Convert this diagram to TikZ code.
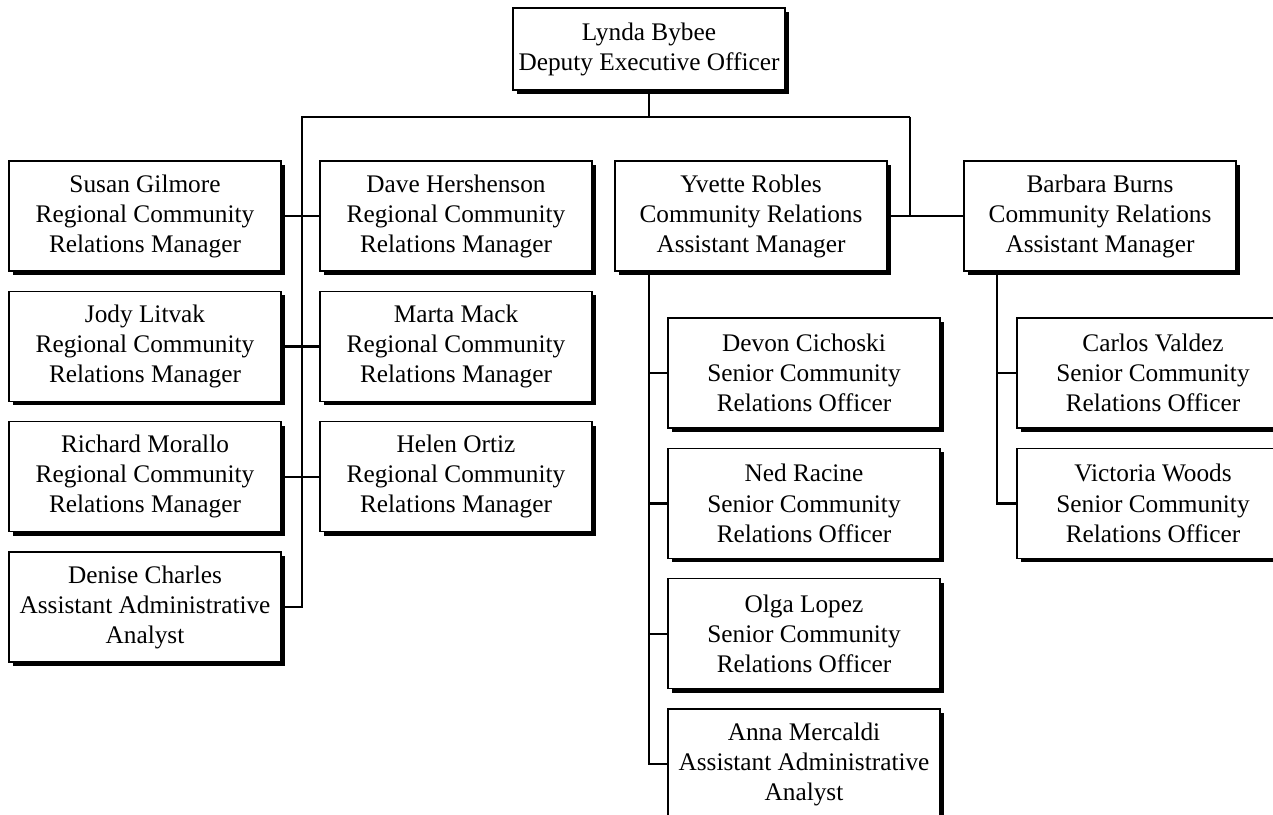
\documentclass[tikz,border=0pt]{standalone}
\usepackage{fontspec}
\setmainfont{Liberation Serif}
\usetikzlibrary{positioning,shadows}

\begin{document}
\begin{tikzpicture}
    [x=0.02cm, y=-0.02cm,
    node distance =0.38cm,
    line width=1.3pt,
    staff/.style={draw, line width=0.8pt, fill=white, align=center,
        minimum width=5.44cm, minimum height=2.2cm, inner sep=1pt,
        font=\fontsize{14.4}{17.1}\selectfont,
        drop shadow={shadow xshift=0.08cm, shadow yshift=-0.08cm, fill=black, opacity=1}}]
        \useasboundingbox (0,0) rectangle (1273,814);
        \clip (0,0) rectangle (1273,814);
        %% Deputy Executive Officer
        \node[staff, minimum height=1.64cm] (Bybee) at (649,49) {Lynda Bybee\\Deputy Executive Officer};
        \coordinate (busL) at (302,117);
        \coordinate (busR) at (910,117);
        %% Regional managers
        \node[staff] (Gilmore) at (145,216) {Susan Gilmore\\Regional Community\\Relations Manager};
        \node[staff, below = of Gilmore] (Litvak) {Jody Litvak\\Regional Community\\Relations Manager};
        \node[staff, below = of Litvak] (Morallo) {Richard Morallo\\Regional Community\\Relations Manager};
        \node[staff, below = of Morallo] (Charles) {Denise Charles\\Assistant Administrative\\Analyst};
        \node[staff] (Hershenson) at (456,216) {Dave Hershenson\\Regional Community\\Relations Manager};
        \node[staff, below = of Hershenson] (Mack) {Marta Mack\\Regional Community\\Relations Manager};
        \node[staff, below = of Mack] (Ortiz) {Helen Ortiz\\Regional Community\\Relations Manager};
        %% Assistant managers
        \node[staff] (Robles) at (751,216) {Yvette Robles\\Community Relations\\Assistant Manager};
        \node[staff] (Burns) at (1100,216) {Barbara Burns\\Community Relations\\Assistant Manager};
        %% Senior officers
        \node[staff] (Cichoski) at (804,373) {Devon Cichoski\\Senior Community\\Relations Officer};
        \node[staff, below = of Cichoski] (Racine) {Ned Racine\\Senior Community\\Relations Officer};
        \node[staff, below = of Racine] (Lopez) {Olga Lopez\\Senior Community\\Relations Officer};
        \node[staff, below = of Lopez] (Mercaldi) {Anna Mercaldi\\Assistant Administrative\\Analyst};
        \node[staff] (Valdez) at (1153,373) {Carlos Valdez\\Senior Community\\Relations Officer};
        \node[staff, below = of Valdez] (Woods) {Victoria Woods\\Senior Community\\Relations Officer};
        \coordinate (Rtrunk) at (649,271);
        \coordinate (Btrunk) at (997,271);

        \draw (Bybee) -- (Bybee |- busL);
        \draw (busR) -- (busL) |- (Charles.east);
        \draw (busR) -- (busR |- Robles.east);
        \draw (Robles.east) -- (Burns.west);
        \draw (Gilmore.east) -- (Hershenson.west);
        \draw (Litvak.east) -- (Mack.west);
        \draw (Morallo.east) -- (Ortiz.west);
        \draw (Rtrunk) |- (Mercaldi.west);
        \foreach \n in {Cichoski,Racine,Lopez}
            \draw (\n.west) -- (\n.west -| Rtrunk);
        \draw (Btrunk) |- (Woods.west);
        \draw (Valdez.west) -- (Valdez.west -| Btrunk);
    \end{tikzpicture}
\end{document}
